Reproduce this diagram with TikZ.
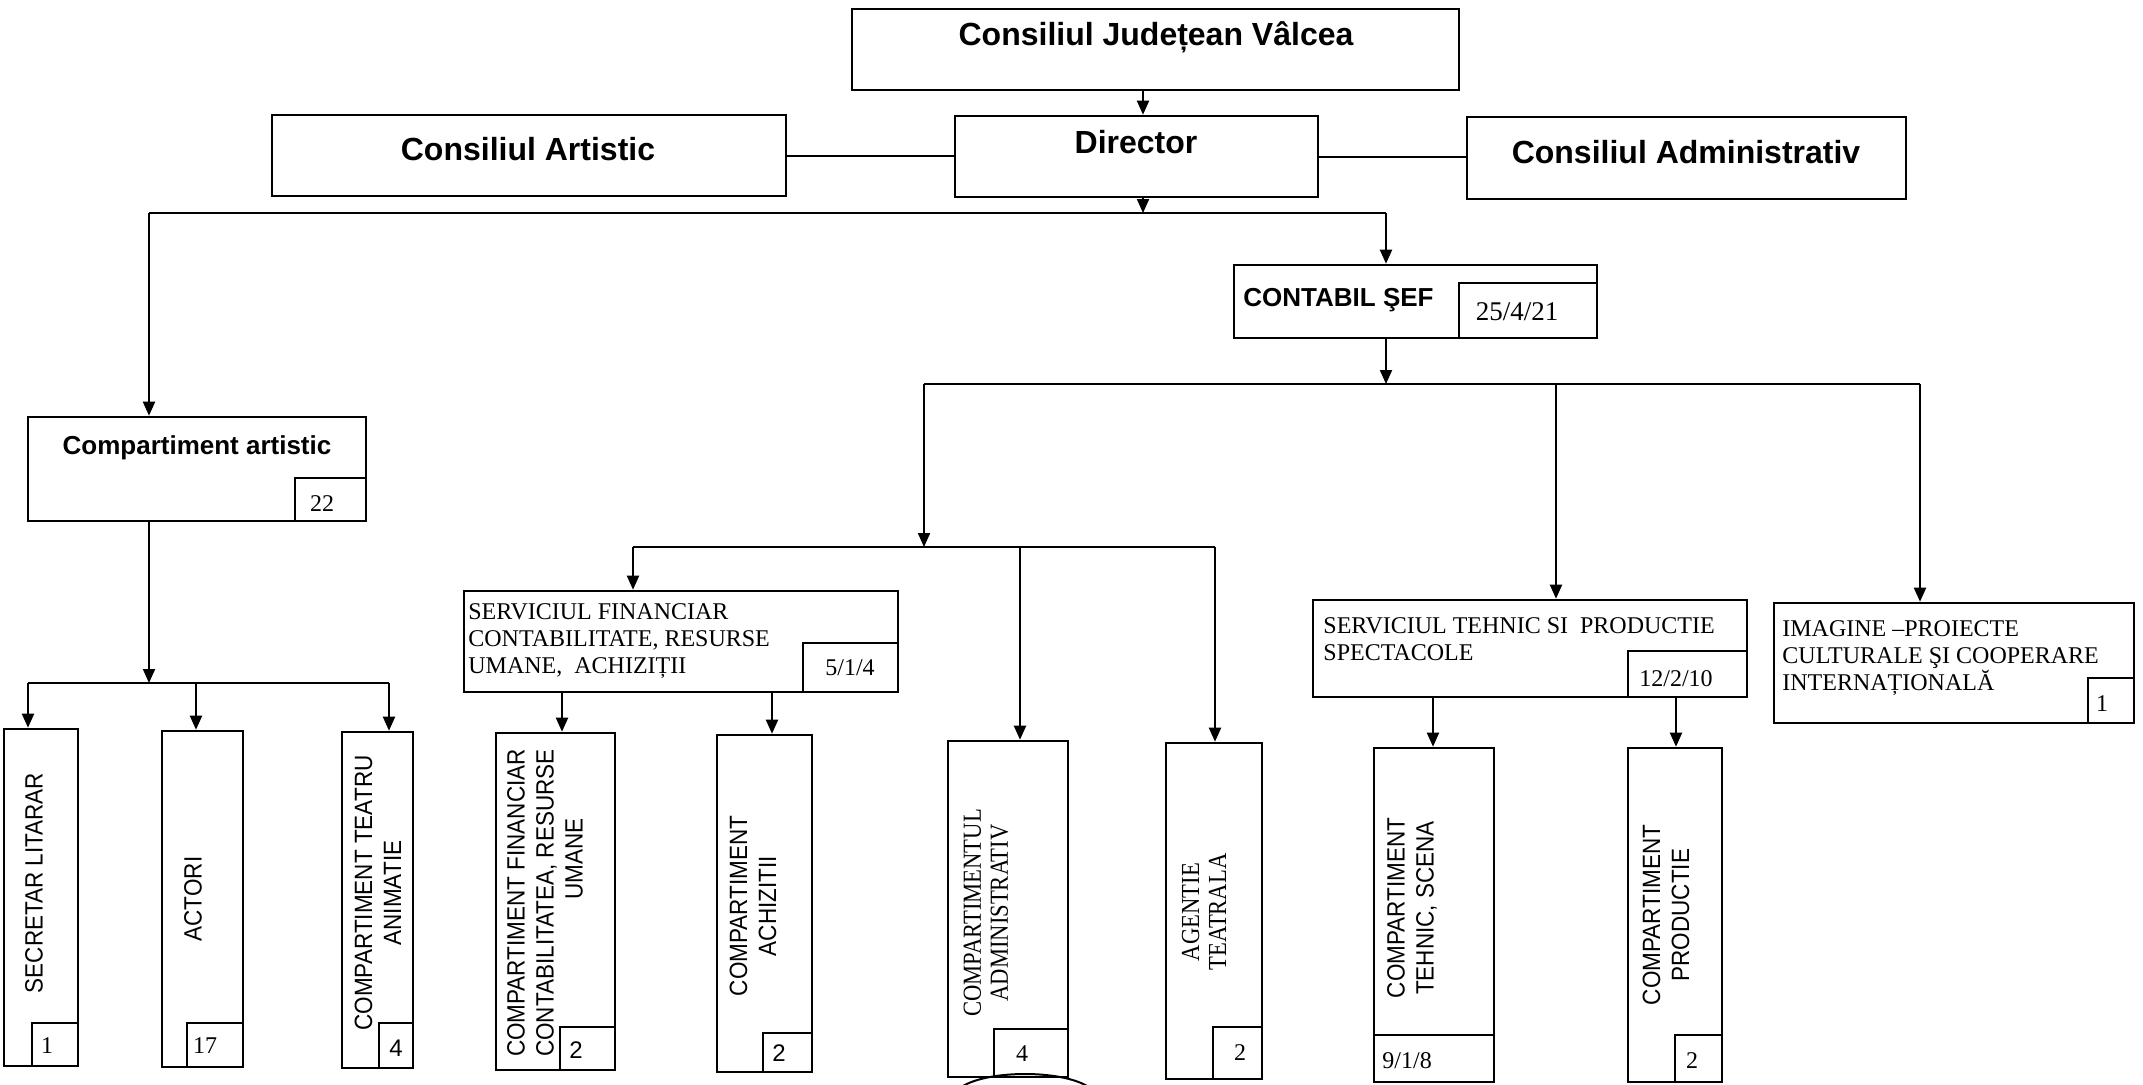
\documentclass[tikz,border=0pt]{standalone}
\usepackage{fontspec}
\setmainfont{Liberation Serif}
\setsansfont{Liberation Sans}
\newfontfamily\vsansfont{Liberation Sans}[FakeStretch=0.9]
\newfontfamily\vseriffont{Liberation Serif}[FakeStretch=0.87]
\usetikzlibrary{arrows.meta,fit}
\begin{document}
\begin{tikzpicture}[x=0.5pt,y=-0.5pt,
  box/.style={draw, line width=1.3pt, inner sep=0pt},
  ln/.style={line width=1pt},
  arr/.style={line width=1pt, -{Triangle[length=7pt,width=6pt]}},
  hd/.style={font=\sffamily\bfseries\fontsize{16pt}{19pt}\selectfont, inner sep=0pt, anchor=base},
  hds/.style={font=\sffamily\bfseries\fontsize{13pt}{15pt}\selectfont, inner sep=0pt},
  ser/.style={font=\fontsize{12pt}{13.5pt}\selectfont, inner sep=0pt, align=left, anchor=north west},
  num/.style={font=\fontsize{12pt}{14pt}\selectfont, inner sep=0pt, anchor=base},
  nums/.style={font=\sffamily\fontsize{12pt}{14pt}\selectfont, inner sep=0pt, anchor=base},
  vs/.style={font=\vsansfont\fontsize{12.5pt}{14.5pt}\selectfont, rotate=90, align=center, inner sep=0pt},
  vr/.style={font=\vseriffont\fontsize{13pt}{13.5pt}\selectfont, rotate=90, align=center, inner sep=0pt},
]
\fill[white] (0,0) rectangle (2143,1084);
\useasboundingbox (0,0) rectangle (2143,1084);

% ---- boxes
\node[box, fit={(852,9) (1459,90)}] (cj) {};
\node[box, fit={(272,115) (786,196)}] (ca) {};
\node[box, fit={(955,116) (1318,197)}] (dir) {};
\node[box, fit={(1467,117) (1906,199)}] (cadm) {};
\node[box, fit={(1234,265) (1597,338)}] (cont) {};
\node[box, fit={(1459,283) (1597,338)}] (contn) {};
\node[box, fit={(28,417) (366,521)}] (cart) {};
\node[box, fit={(295,478) (366,521)}] (cartn) {};
\node[box, fit={(464,591) (898,692)}] (sfin) {};
\node[box, fit={(803,643) (898,692)}] (sfinn) {};
\node[box, fit={(1313,600) (1747,697)}] (steh) {};
\node[box, fit={(1628,651) (1747,697)}] (stehn) {};
\node[box, fit={(1774,603) (2134,723)}] (img) {};
\node[box, fit={(2088,678) (2134,723)}] (imgn) {};
\node[box, fit={(4,729) (78,1066)}] (sec) {};
\node[box, fit={(32,1023) (78,1066)}] (secn) {};
\node[box, fit={(162,731) (243,1067)}] (act) {};
\node[box, fit={(187,1023) (243,1067)}] (actn) {};
\node[box, fit={(342,732) (413,1068)}] (cta) {};
\node[box, fit={(379,1023) (413,1068)}] (ctan) {};
\node[box, fit={(496,733) (615,1070)}] (cfin) {};
\node[box, fit={(560,1027) (615,1070)}] (cfinn) {};
\node[box, fit={(717,735) (812,1072)}] (cach) {};
\node[box, fit={(763,1033) (812,1072)}] (cachn) {};
\node[box, fit={(948,741) (1068,1077)}] (cpadm) {};
\node[box, fit={(994,1029) (1068,1077)}] (cpadmn) {};
\node[box, fit={(1166,743) (1262,1079)}] (agt) {};
\node[box, fit={(1213,1027) (1262,1079)}] (agtn) {};
\node[box, fit={(1374,748) (1494,1082)}] (cteh) {};
\node[box, fit={(1374,1035) (1494,1082)}] (ctehn) {};
\node[box, fit={(1628,748) (1722,1082)}] (cprod) {};
\node[box, fit={(1675,1035) (1722,1082)}] (cprodn) {};

% ---- junction coordinates
\coordinate (k1) at (1143,213);
\coordinate (b1) at (149,213);
\coordinate (b2) at (1386,213);
\coordinate (c1) at (1386,384);
\coordinate (c2) at (924,384);
\coordinate (c3) at (1556,384);
\coordinate (c4) at (1920,384);
\coordinate (d1) at (924,547);
\coordinate (d2) at (633,547);
\coordinate (d3) at (1020,547);
\coordinate (d4) at (1215,547);
\coordinate (e1) at (149,683);
\coordinate (e2) at (28,683);
\coordinate (e3) at (196,683);
\coordinate (e4) at (389,683);
\coordinate (f1) at (562,0);
\coordinate (f2) at (772,0);
\coordinate (g1) at (1433,0);
\coordinate (g2) at (1676,0);

% ---- connectors
\draw[arr] (cj.south -| k1) -- (dir.north -| k1);
\draw[ln] (ca.east) -- (ca.east -| dir.west);
\draw[ln] (dir.east) -- (dir.east -| cadm.west);
\draw[arr] (dir.south -| k1) -- (k1);
\draw[ln] (b1) -- (b2);
\draw[arr] (b1) -- (b1 |- cart.north);
\draw[arr] (b2) -- (b2 |- cont.north);
\draw[arr] (cont.south -| c1) -- (c1);
\draw[ln] (c2) -- (c4);
\draw[arr] (c2) -- (d1);
\draw[arr] (c3) -- (c3 |- steh.north);
\draw[arr] (c4) -- (c4 |- img.north);
\draw[ln] (d2) -- (d4);
\draw[arr] (d2) -- (d2 |- sfin.north);
\draw[arr] (d3) -- (d3 |- cpadm.north);
\draw[arr] (d4) -- (d4 |- agt.north);
\draw[arr] (cart.south -| e1) -- (e1);
\draw[ln] (e2) -- (e4);
\draw[arr] (e2) -- (e2 |- sec.north);
\draw[arr] (e3) -- (e3 |- act.north);
\draw[arr] (e4) -- (e4 |- cta.north);
\draw[arr] (sfin.south -| f1) -- (cfin.north -| f1);
\draw[arr] (sfin.south -| f2) -- (cach.north -| f2);
\draw[arr] (steh.south -| g1) -- (cteh.north -| g1);
\draw[arr] (steh.south -| g2) -- (cprod.north -| g2);

% ---- headings
\node[hd] (tcj) at (1156,45) {Consiliul Județean Vâlcea};
\node[hd] (tca) at (528,160) {Consiliul Artistic};
\node[hd] (tdir) at (1136,153) {Director};
\node[hd] (tcadm) at (1686,163) {Consiliul Administrativ};
\node[hds, anchor=base west] (tcont) at (1243,306) {CONTABIL ŞEF};
\node[hds, anchor=base] (tcart) at (197,454) {Compartiment artistic};

% ---- serif blocks
\node[ser] (tsfin) at (468,603) {SERVICIUL FINANCIAR\\CONTABILITATE, RESURSE\\UMANE,\ \ ACHIZIȚII};
\node[ser] (tsteh) at (1323,617) {SERVICIUL TEHNIC SI\ \ PRODUCTIE\\SPECTACOLE};
\node[ser] (timg) at (1782,620) {IMAGINE –PROIECTE\\CULTURALE ŞI COOPERARE\\INTERNAȚIONALĂ};

% ---- numbers
\node[num, font=\fontsize{13.5pt}{15pt}\selectfont] (ncont) at (1517,320) {25/4/21};
\node[num] (nsfin) at (850,675) {5/1/4};
\node[num] (nsteh) at (1676,686) {12/2/10};
\node[num] (nimg) at (2102,711) {1};
\node[num] (ncart) at (322,511) {22};
\node[num] (nsec) at (47,1053) {1};
\node[num] (nact) at (205,1053) {17};
\node[nums] (ncta) at (396,1056) {4};
\node[nums] (ncfin) at (576,1058) {2};
\node[nums] (ncach) at (779,1061) {2};
\node[num] (ncpadm) at (1022,1061) {4};
\node[num] (nagt) at (1240,1060) {2};
\node[num, anchor=base west] (ncteh) at (1382,1068) {9/1/8};
\node[num] (ncprod) at (1692,1068) {2};

% ---- rotated texts
\node[vs] (tsec) at (34,883) {SECRETAR LITARAR};
\node[vs] (tact) at (193,899) {ACTORI};
\node[vs] (tcta) at (378,893) {COMPARTIMENT TEATRU\\ANIMATIE};
\node[vs] (tcfin) at (545,903) {COMPARTIMENT FINANCIAR\\CONTABILITATEA, RESURSE\\\hspace*{44pt}UMANE};
\node[vs] (tcach) at (753,906) {COMPARTIMENT\\ACHIZITII};
\node[vr] (tcpadm) at (986,913) {COMPARTIMENTUL\\ADMINISTRATIV};
\node[vr] (tagt) at (1204,912) {AGENTIE\\TEATRALA};
\node[vs] (tcteh) at (1412,908) {COMPARTIMENT\\TEHNIC, SCENA};
\node[vs] (tcprod) at (1666,915) {COMPARTIMENT\\PRODUCTIE};

% ---- partial stamp arc at the bottom edge
\draw[line width=1pt] (963,1086) .. controls (990,1070) and (1060,1070) .. (1087,1086);
\end{tikzpicture}
\end{document}
